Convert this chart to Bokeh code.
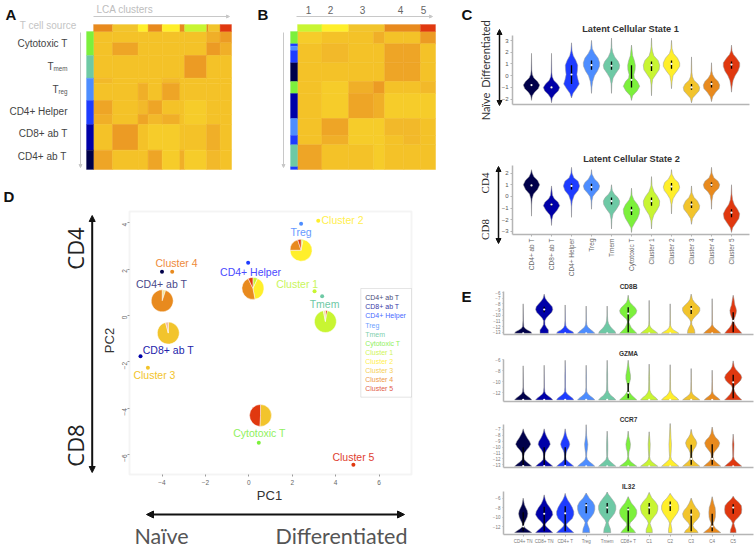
import math
from bokeh.plotting import figure
from bokeh.layouts import row, column
from bokeh.models import (Range1d, Label, Arrow, NormalHead, FixedTicker, BoxAnnotation,
                          LinearColorMapper, ColumnDataSource, LinearAxis)
from bokeh.core.properties import value
from bokeh.embed import file_html
from bokeh.resources import INLINE

# ---------------- shared categories / colours
NAVY, DKBLUE, BLUE, LTBLUE, TEAL, GREEN, LIME, YELLOW, GOLD, ORANGE, RED = (
    "#00004A", "#0000A8", "#1E3CFF", "#4D8DFF", "#6EC9A5", "#7CF03C",
    "#C8F532", "#FFEF2B", "#F2C42C", "#E88A1E", "#E0380F")
CELL_COLORS = [NAVY, DKBLUE, BLUE, LTBLUE, TEAL, GREEN, LIME, YELLOW, GOLD, ORANGE, RED]
CELL_NAMES = ["CD4+ ab T", "CD8+ ab T", "CD4+ Helper", "Treg", "Tmem", "Cytotoxic T",
              "Cluster 1", "Cluster 2", "Cluster 3", "Cluster 4", "Cluster 5"]
SHORT_NAMES = ["CD4+ TN", "CD8+ TN", "CD4+ T", "Treg", "Tmem", "CD8+ T", "C1", "C2", "C3", "C4", "C5"]
HEAT_PALETTE = ["#F6CC2A", "#F4C228", "#F2B92A", "#F0AF28", "#EEA526", "#EC9B24", "#E89020"]

# ---------------- panel A
A_COL_SIZES = [57, 76, 30, 42, 53, 14, 66, 40, 34]
A_COL_TOP = [(57, ORANGE), (76, GOLD), (30, YELLOW), (42, ORANGE), (53, YELLOW), (14, ORANGE),
             (66, LIME), (5, ORANGE), (35, GOLD), (34, RED)]
A_ROW_SIZES = [34, 38, 68, 15, 52, 42, 30, 77, 58]
A_ROW_SIDE = [(72, GREEN), (68, TEAL), (67, LTBLUE), (72, BLUE), (77, DKBLUE), (58, NAVY)]
A_VALUES = [
    [.2, .25, .2, .2, .25, .25, .2, .55, .9],
    [.2, .65, .2, .2, .2, .2, .2, .8, .5],
    [.2, .3, .3, .2, .3, .3, .85, .2, .2],
    [.4, .2, .3, .2, .4, .3, .2, .2, .25],
    [.3, .2, .6, .3, .7, .3, .25, .2, .2],
    [.7, .2, .35, .7, .3, .2, .15, .2, .3],
    [.5, .2, .7, .4, .6, .2, .15, .2, .3],
    [.2, .8, .2, .1, .05, .3, .2, .6, .2],
    [.75, .2, .2, .65, .1, .55, .1, .4, .2],
]

# ---------------- panel B
B_COL_SIZES = [73, 80, 75, 33, 57, 50, 45]
B_COL_TOP = [(73, LIME), (80, YELLOW), (108, GOLD), (107, ORANGE), (45, RED)]
B_ROW_SIZES = [37, 57, 56, 36, 75, 51, 28, 74]
B_ROW_SIDE = [(37, GREEN), (7, BLUE), (13, LTBLUE), (37, BLUE), (56, NAVY), (36, GREEN), (75, DKBLUE),
              (51, LTBLUE), (28, BLUE), (66, TEAL), (8, BLUE)]
B_VALUES = [
    [.15, .25, .25, .5, .2, .2, .8],
    [.2, .45, .2, .2, .7, .7, .2],
    [.2, .3, .2, .2, .75, .75, .2],
    [.2, .1, .6, .85, .2, .2, .4],
    [.2, .1, .7, .6, .15, .15, .1],
    [.2, .65, .1, .15, .4, .35, .2],
    [.2, .6, .1, .1, .3, .45, .2],
    [.75, .3, .25, .15, .3, .2, .2],
]

# ---------------- panel C violins: (value, half width) knots, and (q1, median, q3)
LCS1 = [
    [(-2.1, 0), (-1.7, .04), (-1.4, .16), (-1.1, .34), (-.8, .41), (-.5, .30), (-.2, .12), (.1, .04), (.5, .015), (1.9, 0)],
    [(-2.3, 0), (-1.9, .04), (-1.6, .16), (-1.3, .34), (-1, .41), (-.7, .30), (-.4, .12), (-.1, .04), (.3, .015), (1.9, 0)],
    [(-1.9, 0), (-1.5, .08), (-1.1, .25), (-.7, .39), (-.3, .32), (.1, .27), (.5, .30), (.9, .31), (1.3, .22), (1.7, .09), (2.1, .03), (2.8, 0)],
    [(-1.5, 0), (-1, .02), (-.5, .06), (0, .15), (.4, .30), (.8, .40), (1.1, .41), (1.5, .33), (1.9, .16), (2.3, .04), (3, 0)],
    [(-1.5, 0), (-.7, .02), (-.2, .08), (.2, .22), (.6, .38), (.9, .41), (1.2, .34), (1.6, .16), (2, .06), (2.4, .02), (3.2, 0)],
    [(-2.1, 0), (-1.7, .06), (-1.3, .28), (-.9, .41), (-.5, .30), (-.2, .14), (.1, .12), (.5, .18), (.9, .19), (1.3, .14), (1.7, .06), (2.6, 0)],
    [(-1.7, 0), (-.8, .02), (-.3, .06), (.1, .22), (.5, .38), (.9, .41), (1.3, .33), (1.7, .12), (2.1, .05), (2.5, .02), (3.2, 0)],
    [(-1.1, 0), (-.5, .03), (0, .08), (.4, .26), (.8, .41), (1.1, .41), (1.5, .30), (1.9, .10), (2.3, .03), (3, 0)],
    [(-2.3, 0), (-1.9, .06), (-1.6, .22), (-1.3, .38), (-1, .41), (-.7, .32), (-.4, .13), (-.1, .05), (.3, .02), (1.6, 0)],
    [(-2.2, 0), (-1.8, .06), (-1.4, .22), (-1.1, .38), (-.8, .41), (-.5, .33), (-.2, .16), (.1, .06), (.4, .02), (1.1, 0)],
    [(-1.4, 0), (-.9, .03), (-.4, .08), (0, .18), (.4, .33), (.8, .41), (1.1, .41), (1.5, .25), (1.8, .10), (2.1, .03), (2.6, 0)],
]
LCS1_BOX = [(-.9, -.8, -.7), (-1.1, -1, -.9), (-.7, .1, .9), (.5, .9, 1.3), (.5, .85, 1.2), (-1, -.35, .9),
            (.4, .9, 1.2), (.6, 1, 1.3), (-1.2, -1, -.7), (-1, -.7, -.5), (.6, .95, 1.2)]
LCS2 = [
    [(-1.7, 0), (-.7, .01), (-.2, .03), (.2, .1), (.6, .3), (1, .41), (1.4, .3), (1.7, .12), (2, .04), (2.3, 0)],
    [(-2.5, 0), (-2, .02), (-1.6, .08), (-1.2, .28), (-.8, .41), (-.5, .33), (-.2, .14), (.1, .05), (.9, 0)],
    [(-1.8, 0), (-.9, .01), (-.4, .04), (.1, .14), (.5, .33), (.9, .41), (1.3, .33), (1.6, .12), (2, .03), (2.5, 0)],
    [(-1.1, 0), (-.4, .02), (0, .07), (.3, .2), (.6, .36), (.9, .41), (1.2, .33), (1.5, .15), (1.9, .03), (2.3, 0)],
    [(-2.8, 0), (-2, .02), (-1.5, .08), (-1.1, .25), (-.7, .39), (-.4, .41), (-.1, .32), (.2, .14), (.5, .04), (1, 0)],
    [(-3.1, 0), (-2.7, .03), (-2.3, .16), (-1.9, .3), (-1.5, .39), (-1.1, .41), (-.7, .3), (-.3, .12), (.1, .03), (.7, 0)],
    [(-2.8, 0), (-2.1, .03), (-1.6, .12), (-1.2, .27), (-.8, .39), (-.4, .41), (0, .3), (.4, .13), (.9, .03), (1.7, 0)],
    [(-1.5, 0), (-.7, .02), (-.2, .08), (.2, .22), (.5, .36), (.8, .41), (1.2, .34), (1.5, .15), (1.9, .03), (2.3, 0)],
    [(-2.4, 0), (-1.9, .05), (-1.5, .2), (-1.1, .38), (-.8, .41), (-.4, .3), (-.1, .13), (.3, .03), (.9, 0)],
    [(-1.1, 0), (-.4, .02), (.1, .07), (.4, .18), (.7, .36), (1, .41), (1.3, .33), (1.6, .12), (2, .03), (2.5, 0)],
    [(-3.1, 0), (-2.7, .06), (-2.3, .22), (-1.9, .37), (-1.5, .41), (-1.1, .3), (-.7, .14), (-.3, .06), (.2, .02), (1, 0)],
]
LCS2_BOX = [(.85, .95, 1.05), (-.85, -.7, -.6), (.6, .9, 1.1), (.5, .8, 1.1), (-.7, -.4, -.1), (-1.6, -1.2, -.9),
            (-.8, -.4, -.1), (.5, .85, 1.15), (-1, -.7, -.45), (.85, 1, 1.2), (-1.8, -1.4, -1.1)]

# ---------------- panel E violins
CD8B = [
    [(-13.2, .41), (-12.9, .36), (-12.6, .2), (-12.3, .08), (-12, .03), (-11, .01), (-8, 0)],
    [(-13.2, .2), (-12.6, .2), (-12.2, .12), (-11.7, .04), (-11, .03), (-10.5, .1), (-10, .22), (-9.5, .36), (-9, .41), (-8.5, .38), (-8, .26), (-7.5, .14), (-7, .05), (-6.3, 0)],
    [(-13.2, .41), (-12.9, .36), (-12.6, .2), (-12.2, .08), (-11.8, .03), (-11, .01), (-8.2, 0)],
    [(-13.2, .41), (-12.9, .34), (-12.5, .2), (-12.1, .08), (-11.7, .03), (-11, .01), (-8.4, 0)],
    [(-13.2, .41), (-12.8, .36), (-12.4, .24), (-12, .15), (-11.5, .07), (-11, .03), (-10, .01), (-8.4, 0)],
    [(-13.2, .41), (-12.8, .3), (-12.2, .15), (-11.7, .08), (-11.2, .03), (-10.7, .08), (-10.2, .24), (-9.7, .37), (-9.2, .41), (-8.7, .34), (-8.2, .2), (-7.7, .08), (-7.2, .03), (-6.5, 0)],
    [(-13.2, .41), (-12.9, .32), (-12.5, .16), (-12.1, .06), (-11.7, .02), (-11, .01), (-7.4, 0)],
    [(-13.2, .41), (-12.9, .3), (-12.6, .15), (-12.2, .06), (-11.8, .02), (-11, .01), (-8, 0)],
    [(-13.2, .18), (-12.6, .16), (-12.1, .1), (-11.7, .04), (-11.2, .02), (-10.7, .08), (-10.2, .2), (-9.7, .34), (-9.2, .41), (-8.7, .41), (-8.2, .29), (-7.7, .15), (-7.2, .06), (-6.3, 0)],
    [(-13.2, .41), (-12.9, .34), (-12.5, .2), (-12.1, .08), (-11.7, .02), (-11, .01), (-7.1, 0)],
    [(-13.2, .41), (-12.7, .3), (-12.2, .18), (-11.7, .09), (-11.2, .04), (-10.7, .04), (-10.2, .1), (-9.7, .14), (-9.2, .16), (-8.7, .13), (-8.2, .08), (-7.7, .06), (-7.2, .04), (-6.5, 0)],
]
CD8B_BOX = [None, (-9.5, -9, -8.5), None, None, None, (-13, -9.7, -8.6), None, None, (-9.8, -8.9, -8.4), None, (-13, -11, -9.5)]
GZMA = [
    [(-13.3, .41), (-13, .34), (-12.6, .2), (-12.2, .08), (-11.8, .03), (-11, .01), (-7.1, 0)],
    [(-13.3, .41), (-13, .34), (-12.6, .2), (-12.2, .08), (-11.8, .03), (-11, .01), (-7, 0)],
    [(-13.3, .41), (-13, .36), (-12.6, .22), (-12.2, .1), (-11.8, .03), (-11, .015), (-9, .015), (-6.1, 0)],
    [(-13.3, .41), (-13, .34), (-12.6, .2), (-12.2, .09), (-11.8, .03), (-11, .01), (-9, .012), (-7, 0)],
    [(-13.3, .41), (-12.9, .32), (-12.5, .18), (-12, .08), (-11.5, .03), (-10, .02), (-8.5, .02), (-6.1, 0)],
    [(-13.3, .41), (-12.9, .3), (-12.5, .18), (-12, .08), (-11.5, .02), (-10.8, .02), (-10.2, .06), (-9.5, .11), (-8.8, .11), (-8, .07), (-7, .03), (-6.1, 0)],
    [(-13.3, .41), (-12.9, .32), (-12.5, .18), (-12, .08), (-11.5, .03), (-10, .02), (-9, .02), (-6.8, 0)],
    [(-13.3, .41), (-12.9, .32), (-12.5, .17), (-12, .07), (-11.5, .02), (-10, .015), (-6.9, 0)],
    [(-13.3, .41), (-13, .32), (-12.6, .17), (-12.2, .07), (-11.7, .02), (-10, .01), (-7.6, 0)],
    [(-13.3, .38), (-13, .3), (-12.6, .16), (-12.2, .06), (-11.7, .02), (-10, .01), (-7.9, 0)],
    [(-13.3, .41), (-12.8, .28), (-12.3, .16), (-11.8, .08), (-11.2, .03), (-10.7, .08), (-10.2, .24), (-9.7, .36), (-9.2, .41), (-8.7, .36), (-8.2, .24), (-7.7, .12), (-7.2, .05), (-6.2, 0)],
]
GZMA_BOX = [None, None, None, None, None, (-13, -12, -10.2), None, None, None, None, (-13, -10.1, -8.7)]
CCR7 = [
    [(-13.25, .41), (-12.9, .3), (-12.5, .15), (-12.1, .05), (-11.6, .03), (-11, .06), (-10.5, .16), (-10, .28), (-9.5, .36), (-9, .3), (-8.5, .2), (-8, .12), (-7.5, .05), (-6.9, 0)],
    [(-13.25, .41), (-12.9, .3), (-12.5, .15), (-12.1, .05), (-11.6, .03), (-11, .05), (-10.5, .12), (-10, .22), (-9.5, .29), (-9, .25), (-8.5, .16), (-8, .09), (-7.5, .04), (-6.9, 0)],
    [(-13.25, .41), (-12.9, .3), (-12.5, .15), (-12.1, .05), (-11.6, .03), (-11, .05), (-10.5, .1), (-10, .18), (-9.5, .22), (-9, .18), (-8.5, .11), (-8, .06), (-7.5, .03), (-6.9, 0)],
    [(-13.25, .41), (-12.9, .31), (-12.5, .16), (-12.1, .06), (-11.6, .02), (-11, .03), (-10.3, .06), (-9.5, .08), (-8.8, .05), (-8, .02), (-6.2, 0)],
    [(-13.25, .41), (-12.9, .3), (-12.5, .16), (-12.1, .06), (-11.6, .02), (-10.5, .03), (-9.5, .03), (-8.5, .02), (-7.3, 0)],
    [(-13.25, .41), (-12.9, .28), (-12.5, .13), (-12.1, .05), (-11.6, .02), (-10.8, .04), (-10.2, .09), (-9.5, .11), (-8.9, .08), (-8.2, .03), (-7.3, 0)],
    [(-13.25, .41), (-12.9, .28), (-12.5, .13), (-12.1, .05), (-11.6, .02), (-10.5, .04), (-9.5, .05), (-8.6, .03), (-7.4, 0)],
    [(-13.25, .41), (-12.9, .3), (-12.5, .16), (-12.1, .06), (-11.6, .03), (-10.5, .05), (-9.5, .06), (-8.5, .04), (-7, .02), (-6, 0)],
    [(-13.25, .41), (-12.9, .3), (-12.5, .16), (-12.1, .07), (-11.6, .04), (-11, .05), (-10.4, .12), (-9.9, .22), (-9.3, .27), (-8.8, .22), (-8.3, .12), (-7.8, .05), (-7, 0)],
    [(-13.25, .41), (-12.9, .3), (-12.5, .16), (-12.1, .07), (-11.6, .04), (-11, .07), (-10.4, .2), (-9.9, .31), (-9.3, .36), (-8.8, .29), (-8.3, .15), (-7.7, .06), (-6.6, 0)],
    [(-13.25, .41), (-12.9, .3), (-12.5, .16), (-12.1, .06), (-11.6, .02), (-10.5, .03), (-9.5, .04), (-8.8, .02), (-7.8, 0)],
]
CCR7_BOX = [(-13, -13.2, -10), (-13, -13.2, -10), (-13, -13.2, -10), None, None, None, None, None,
            (-13, -12, -9.6), (-13, -12, -9.5), None]
IL32 = [
    [(-13.3, .41), (-13, .32), (-12.6, .18), (-12.2, .07), (-11.8, .03), (-11.3, .05), (-10.8, .11), (-10, .19), (-9.3, .22), (-8.6, .19), (-8, .12), (-7.4, .06), (-6, 0)],
    [(-13.3, .41), (-12.9, .32), (-12.4, .19), (-11.9, .07), (-11.5, .05), (-11, .14), (-10.3, .3), (-9.5, .41), (-8.8, .38), (-8, .27), (-7.2, .14), (-6.4, .06), (-5.3, 0)],
    [(-13.3, .41), (-12.9, .32), (-12.4, .19), (-11.9, .08), (-11.5, .06), (-11, .17), (-10.3, .34), (-9.5, .41), (-8.8, .41), (-8, .34), (-7.2, .24), (-6.4, .12), (-5.6, .04), (-5, 0)],
    [(-13.3, .17), (-12.5, .15), (-11.8, .09), (-11.2, .05), (-10.6, .11), (-10, .24), (-9.2, .36), (-8.4, .41), (-7.6, .41), (-6.8, .32), (-6, .15), (-4.9, 0)],
    [(-13.3, .17), (-12.5, .15), (-11.8, .09), (-11.2, .05), (-10.6, .1), (-10, .22), (-9.2, .35), (-8.4, .41), (-7.6, .41), (-6.8, .33), (-6, .2), (-5.2, .06), (-4.7, 0)],
    [(-13.3, .35), (-12.8, .27), (-12.2, .14), (-11.7, .07), (-11.2, .1), (-10.6, .23), (-9.9, .36), (-9.2, .41), (-8.5, .4), (-7.8, .3), (-7, .15), (-5.7, 0)],
    [(-13.3, .15), (-12.6, .14), (-11.9, .08), (-11.3, .04), (-10.7, .1), (-10, .22), (-9.2, .36), (-8.4, .41), (-7.6, .41), (-6.8, .3), (-5.9, .12), (-4.8, 0)],
    [(-13.3, .08), (-12.6, .08), (-11.9, .05), (-11.3, .03), (-10.7, .09), (-10, .2), (-9.2, .33), (-8.4, .41), (-7.6, .41), (-6.8, .34), (-6, .16), (-5, 0)],
    [(-13.3, .33), (-12.8, .26), (-12.3, .13), (-11.8, .08), (-11.3, .12), (-10.7, .26), (-10, .38), (-9.3, .41), (-8.6, .34), (-7.9, .21), (-7.1, .1), (-6, 0)],
    [(-13.3, .41), (-12.9, .3), (-12.4, .16), (-11.8, .07), (-11.3, .05), (-10.7, .11), (-10, .15), (-9, .16), (-8, .14), (-7.2, .08), (-5.7, 0)],
    [(-13.3, .14), (-12.7, .13), (-12, .07), (-11.3, .03), (-10.7, .1), (-10, .26), (-9.2, .39), (-8.4, .41), (-7.6, .39), (-6.9, .27), (-6.2, .09), (-5.6, 0)],
]
IL32_BOX = [(-13, -12, -9), (-13, -9.3, -7.8), (-13, -9.2, -7.7), (-9.2, -7.5, -7), (-9.2, -8, -7), (-13, -8.4, -8),
            (-9.4, -8, -7), (-8.7, -7.5, -6.7), (-13, -9.5, -8.4), (-13, -12, -9.3), (-9.3, -8, -7.3)]

# ---------------- panel D
PC1 = [-4.0, -4.99, -.03, 2.41, 3.38, .46, 3.03, 3.2, -4.65, -3.53, 4.82]
PC2 = [1.89, -1.76, 2.28, 3.96, .83, -5.5, 1.05, 4.09, -2.26, 1.89, -6.45]
LABEL_X = [-4.02, -3.71, .08, 2.41, 3.49, .49, 2.23, 4.32, -4.35, -3.33, 4.82]
LABEL_Y = [1.34, -1.47, 1.86, 3.63, .48, -5.09, 1.38, 4.11, -2.55, 2.28, -6.12]
LABEL_COLORS = ["#4A4A8A", "#2222AA", "#4A4AFF", "#6699FF", "#6EC9A5", "#90F060",
                "#C8F55A", "#FFEF50", "#F2C42C", "#EE8A3A", "#E04030"]
LEGEND_COLORS = ["#4A4A7A", "#3A3AA8", "#4A6AFF", "#6F9FFF", "#7FD0AE", "#90F060",
                 "#D0F55A", "#FFEF50", "#F5CF5A", "#EE9A4A", "#E2604A"]
PIE_X = [-3.99, -3.71, .19, 2.41, 3.53, .54]
PIE_Y = [.635, -.76, 1.17, 2.82, -.26, -4.32]
PIE_PARTS = [
    [("#F2E79A", .05), (ORANGE, .95)],
    [(GOLD, .96), ("#F0B8A0", .04)],
    [(LIME, .07), (YELLOW, .40), (ORANGE, .46), (RED, .07)],
    [(LIME, .03), (YELLOW, .72), (ORANGE, .20), (RED, .05)],
    [(RED, .03), (LIME, .94), ("#F2E79A", .03)],
    [(GOLD, .51), (RED, .49)],
]

SANS = "Liberation Sans"


def panel(box, frame, xr, yr):
    """box and frame are page-pixel rectangles (x0, y0, x1, y1); xr, yr are the data
    limits at the plot area. The canvas frame is the whole box, so that texts and arrows
    may lie outside the plot area: the ranges are widened to match."""
    sx = (xr[1] - xr[0]) / (frame[2] - frame[0])
    sy = (yr[1] - yr[0]) / (frame[3] - frame[1])
    x_full = (xr[0] + (box[0] - frame[0]) * sx, xr[0] + (box[2] - frame[0]) * sx)
    y_full = (yr[0] - (box[3] - frame[3]) * sy, yr[0] + (frame[3] - box[1]) * sy)
    p = figure(width=box[2] - box[0], height=box[3] - box[1],
               x_range=Range1d(*x_full), y_range=Range1d(*y_full),
               toolbar_location=None, output_backend="svg",
               x_axis_type=None, y_axis_type=None,
               min_border_left=0, min_border_right=0, min_border_top=0, min_border_bottom=0)
    p.outline_line_color = None
    p.grid.visible = False
    p.tags = [box[0], box[3], xr[0], xr[1], yr[0], yr[1]]
    return p


def lab(p, x, y, text, size=8, color="#333333", align="center", base="middle", angle=0,
        style="normal", font=SANS):
    p.add_layout(Label(x=x - p.tags[0], y=p.tags[1] - y, x_units="screen", y_units="screen",
                       text=text, text_font_size=f"{size}px", text_color=color, text_align=align,
                       text_baseline=base, angle=angle, angle_units="rad",
                       text_font_style=style, text_font=font))


def arrow(p, x0, y0, x1, y1, color="#000000", width=2, head=7, both=False):
    end = NormalHead(size=head, fill_color=color, line_color=color)
    start = NormalHead(size=head, fill_color=color, line_color=color) if both else None
    p.add_layout(Arrow(x_start=x0 - p.tags[0], y_start=p.tags[1] - y0, x_end=x1 - p.tags[0], y_end=p.tags[1] - y1,
                       start_units="screen", end_units="screen", line_color=color, line_width=width,
                       end=end, start=start))


def heat(p, col_sizes, col_top, row_sizes, row_side, values):
    mapper = LinearColorMapper(palette=HEAT_PALETTE, low=0, high=1.1)
    l, r, t, b, v = [], [], [], [], []
    y = 0
    for i, rs in enumerate(row_sizes):
        x = 0
        for j, cs in enumerate(col_sizes):
            l.append(x); r.append(x + cs); t.append(y); b.append(y + rs); v.append(values[i][j])
            x += cs
        y += rs
    src = ColumnDataSource(dict(l=l, r=r, t=t, b=b, v=v))
    p.quad(left="l", right="r", top="t", bottom="b", source=src,
           fill_color={"field": "v", "transform": mapper},
           line_color={"field": "v", "transform": mapper}, line_width=.5)
    x = 0
    for s, c in col_top:
        p.quad(left=x, right=x + s, top=-21, bottom=0, fill_color=c, line_color=c, line_width=.3)
        x += s
    y = 0
    for s, c in row_side:
        p.quad(left=-21, right=0, top=y, bottom=y + s, fill_color=c, line_color=c, line_width=.3)
        y += s


def violins(p, shapes, boxes, med_size=2.2, box_w=1.3):
    xs, ys = [], []
    for i, sh in enumerate(shapes):
        pos = i + 1
        p.segment(pos, sh[0][0], pos, sh[-1][0], line_color="#BDBDBD", line_width=1)
        xs.append([pos - w for _, w in sh] + [pos + w for _, w in reversed(sh)])
        ys.append([v for v, _ in sh] + [v for v, _ in reversed(sh)])
    p.patches(xs=xs, ys=ys, fill_color=CELL_COLORS, line_color="#9A9A9A", line_width=.5)
    for i, bx in enumerate(boxes):
        if bx is None:
            bx = (shapes[i][0][0], shapes[i][0][0], shapes[i][0][0])
        else:
            p.segment(i + 1, bx[0], i + 1, bx[2], line_color="#000000", line_width=box_w)
        p.scatter([i + 1], [bx[1]], size=med_size, marker="circle", fill_color="#FFFFFF", line_color=None)


def style_axes(p, yticks, ysize, tick_len=2, color="#555555"):
    y = LinearAxis(ticker=FixedTicker(ticks=yticks), fixed_location=p.tags[2], bounds=(p.tags[4], p.tags[5]))
    y.major_label_text_font_size = f"{ysize}px"
    y.major_label_text_color = color
    y.major_label_text_font = SANS
    y.axis_line_color = "#B5B5B5"
    y.axis_line_width = 1.5
    y.major_tick_line_color = "#B5B5B5"
    y.major_tick_in = 0
    y.major_tick_out = tick_len
    y.minor_tick_line_color = None
    y.major_label_standoff = 2
    p.add_layout(y, "left")
    return y


def x_axis(p, names=None, size=6, orient=None, color="#555555"):
    x = LinearAxis(ticker=FixedTicker(ticks=list(range(1, 12)) if names else []),
                   fixed_location=p.tags[4], bounds=(p.tags[2], p.tags[3]))
    x.axis_line_color = "#B5B5B5"
    x.axis_line_width = 1.5
    x.minor_tick_line_color = None
    x.major_tick_in = 0
    x.major_tick_out = 2
    x.major_tick_line_color = "#B5B5B5"
    x.major_label_standoff = 2
    if names:
        x.major_label_overrides = {i + 1: n for i, n in enumerate(names)}
        x.major_label_text_font_size = f"{size}px"
        x.major_label_text_color = color
        x.major_label_text_font = SANS
        if orient:
            x.major_label_orientation = orient
    p.add_layout(x, "below")


def pos_range(px0, px1, px_first, spacing):
    return ((px0 - px_first) / spacing + 1, (px1 - px_first) / spacing + 1)


def val_range(px_bottom, px_top, px_ref, val_ref, unit):
    return (val_ref - (px_bottom - px_ref) / unit, val_ref + (px_ref - px_top) / unit)


# ---------- A
pa = panel((0, 0, 240, 186), (86, 24, 231, 169), (-21, 412), (414, -21))
heat(pa, A_COL_SIZES, A_COL_TOP, A_ROW_SIZES, A_ROW_SIDE, A_VALUES)
lab(pa, 5, 14, "A", 15, "#111111", "left", style="bold")
lab(pa, 96, 9, "LCA clusters", 10, "#BDBDBD", "left")
lab(pa, 76, 25, "T cell source", 10, "#C4C4C4", "right")
arrow(pa, 93, 16, 229, 16, "#C8C8C8", 1, 3)
arrow(pa, 80, 32, 80, 167, "#C8C8C8", 1, 3)
lab(pa, 67, 43, "Cytotoxic T", 10, "#444444", "right")
lab(pa, 53, 66, "T", 10, "#444444", "right")
lab(pa, 67, 68, "mem", 6.3, "#555555", "right")
lab(pa, 58, 89, "T", 10, "#444444", "right")
lab(pa, 67, 91, "reg", 6.3, "#555555", "right")
lab(pa, 67, 111, "CD4+ Helper", 10, "#444444", "right")
lab(pa, 67, 133, "CD8+ ab T", 10, "#444444", "right")
lab(pa, 66, 156, "CD4+ ab T", 10, "#444444", "right")

# ---------- B
pb = panel((240, 0, 456, 186), (290, 24, 435, 169), (-21, 413), (414, -21))
heat(pb, B_COL_SIZES, B_COL_TOP, B_ROW_SIZES, B_ROW_SIDE, B_VALUES)
lab(pb, 257, 14, "B", 15, "#111111", "left", style="bold")
for t, x in zip("12345", [308, 330, 362, 400, 423]):
    lab(pb, x, 9, t, 10, "#666666")
arrow(pb, 296, 16, 432, 16, "#C8C8C8", 1, 3)
arrow(pb, 283, 32, 283, 167, "#C8C8C8", 1, 3)

# ---------- C1
pc1 = panel((456, 0, 756, 132), (512, 35, 749, 104), pos_range(512, 749, 531, 20), val_range(104, 35, 75.2, 0, 11.73))
violins(pc1, LCS1, LCS1_BOX)
style_axes(pc1, [-2, -1, 0, 1, 2, 3], 6)
x_axis(pc1)
lab(pc1, 461, 14, "C", 15, "#111111", "left", style="bold")
lab(pc1, 630, 28, "Latent Cellular State 1", 9.2, "#333333", style="bold")
arrow(pc1, 499, 105, 499, 29, "#111111", 1.5, 5, both=True)
lab(pc1, 485, 53.5, "Differentiated", 11, "#333333", angle=math.pi / 2, font="Lato")
lab(pc1, 485, 106, "Naïve", 11, "#333333", angle=math.pi / 2, font="Lato")

# ---------- C2
pc2 = panel((456, 132, 756, 280), (512, 165, 749, 234), pos_range(512, 749, 531, 20), val_range(234, 165, 172.7, 2, 11.6))
violins(pc2, LCS2, LCS2_BOX)
style_axes(pc2, [-3, -2, -1, 0, 1, 2], 6)
x_axis(pc2, CELL_NAMES, 6.5, math.pi / 2, "#666666")
lab(pc2, 631, 158, "Latent Cellular State 2", 9.2, "#333333", style="bold")
arrow(pc2, 498, 243, 498, 166, "#111111", 1.5, 5, both=True)
lab(pc2, 484, 182.5, "CD4", 11, "#222222", angle=math.pi / 2, font="Liberation Serif")
lab(pc2, 484, 229, "CD8", 11, "#222222", angle=math.pi / 2, font="Liberation Serif")

# ---------- E
XE = pos_range(503, 753, 522.7, 21)
E_GRAY = "#777777"
pe1 = panel((456, 280, 756, 342), (503, 291, 753, 334), XE, val_range(334, 291, 331.7, -13, 5.67))
violins(pe1, CD8B, CD8B_BOX)
style_axes(pe1, list(range(-13, -5)), 4.5, 1, E_GRAY)
x_axis(pe1)
lab(pe1, 461, 296, "E", 15, "#111111", "left", style="bold")
lab(pe1, 628, 286, "CD8B", 6.5, "#333333", style="bold")

pe2 = panel((456, 342, 756, 408), (503, 359, 753, 401), XE, val_range(401, 359, 392.3, -12, 5.5))
violins(pe2, GZMA, GZMA_BOX)
style_axes(pe2, [-12, -10, -8, -6], 4.5, 1, E_GRAY)
x_axis(pe2)
lab(pe2, 628, 353, "GZMA", 6.5, "#333333", style="bold")

pe3 = panel((456, 408, 756, 476), (503, 424, 753, 467), XE, val_range(467, 424, 464.3, -13, 5.89))
violins(pe3, CCR7, CCR7_BOX)
style_axes(pe3, list(range(-13, -6)), 4.5, 1, E_GRAY)
x_axis(pe3)
lab(pe3, 628, 419, "CCR7", 6.5, "#333333", style="bold")

pe4 = panel((456, 476, 756, 548), (503, 491, 753, 534), XE, val_range(534, 491, 526, -12, 4.72))
violins(pe4, IL32, IL32_BOX)
style_axes(pe4, [-12, -10, -8, -6], 4.5, 1, E_GRAY)
x_axis(pe4, SHORT_NAMES, 4.5, None, E_GRAY)
lab(pe4, 628, 486, "IL32", 6.5, "#333333", style="bold")

# ---------- D
DX = ((129 - 248.3) / 21.7, (411 - 248.3) / 21.7)
DY = ((315 - 474) / 23.14, (315 - 211) / 23.14)
pd = panel((0, 186, 456, 548), (129, 211, 411, 474), DX, DY)
pd.add_layout(BoxAnnotation(left=DX[0], right=DX[1], bottom=DY[0], top=DY[1], fill_alpha=0,
                            line_color="#DADADA", line_width=2, level="underlay"))
dx = LinearAxis(ticker=FixedTicker(ticks=[-4, -2, 0, 2, 4, 6]), fixed_location=DY[0], bounds=DX)
dy = LinearAxis(ticker=FixedTicker(ticks=[-6, -4, -2, 0, 2, 4]), fixed_location=DX[0], bounds=DY)
for a in (dx, dy):
    a.axis_line_color = None
    a.major_tick_line_color = "#9A9A9A"
    a.major_tick_in = 0
    a.major_tick_out = 2
    a.minor_tick_line_color = None
    a.major_label_text_font_size = "6.5px"
    a.major_label_text_color = "#666666"
    a.major_label_text_font = SANS
    a.major_label_standoff = 3
dy.major_label_orientation = math.pi / 2
pd.add_layout(dx, "below")
pd.add_layout(dy, "left")
pd.scatter(PC1, PC2, size=4, marker="circle", fill_color=CELL_COLORS, line_color=None)
for px, py, parts in zip(PIE_X, PIE_Y, PIE_PARTS):
    cum = 0.0
    for col, f in parts:
        pd.wedge(px, py, radius=11, radius_units="screen",
                 start_angle=math.pi / 2 - 2 * math.pi * cum, end_angle=math.pi / 2 - 2 * math.pi * (cum + f),
                 direction="clock", fill_color=col, line_color="#FFFFFF", line_width=.5)
        cum += f
pd.text(LABEL_X, LABEL_Y, text=CELL_NAMES, text_color=LABEL_COLORS, text_font_size="10.5px",
        text_align="center", text_baseline="middle", text_font=value(SANS))
pd.add_layout(BoxAnnotation(left=(360.3 - 248.3) / 21.7, right=(411 - 248.3) / 21.7,
                            top=(315 - 288) / 23.14, bottom=(315 - 396.7) / 23.14,
                            fill_color="#FFFFFF", fill_alpha=1, line_color="#A8A8A8", line_width=1))
for i, (n, c) in enumerate(zip(CELL_NAMES, LEGEND_COLORS)):
    lab(pd, 364.7, 297.3 + 9.08 * i, n, 7, c, "left")
lab(pd, 3, 196, "D", 15, "#111111", "left", style="bold")
lab(pd, 269, 495, "PC1", 13, "#333333")
lab(pd, 109, 340, "PC2", 13, "#333333", angle=math.pi / 2)
arrow(pd, 91.7, 472, 91.7, 215, "#111111", 2, 6, both=True)
arrow(pd, 146, 514, 404, 514, "#111111", 2, 7, both=True)
lab(pd, 74, 248, "CD4", 22, "#222222", angle=math.pi / 2, font="Open Sans")
lab(pd, 74, 445, "CD8", 22, "#222222", angle=math.pi / 2, font="Open Sans")
lab(pd, 161, 535, "Naïve", 21.5, "#555555", font="Lato")
lab(pd, 341, 535, "Differentiated", 21.5, "#555555", font="Lato")

left = column(row(pa, pb, spacing=0), pd, spacing=0)
right = column(pc1, pc2, pe1, pe2, pe3, pe4, spacing=0)
page = row(left, right, spacing=0)
open("out.html", "w").write(file_html(page, INLINE))
